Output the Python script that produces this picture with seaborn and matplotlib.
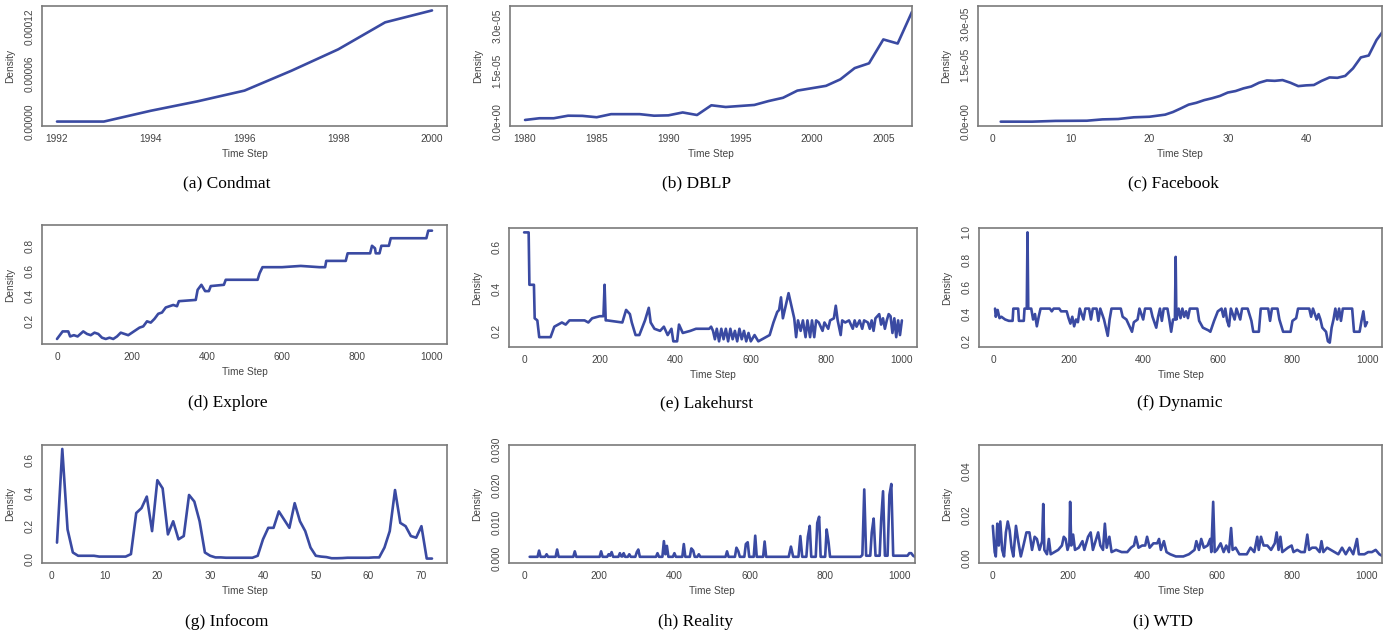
import matplotlib
matplotlib.use("Agg")
import matplotlib.pyplot as plt
import matplotlib.transforms as mtransforms
import seaborn as sns
import numpy as np

sns.set_style("white")
plt.rcParams['font.family'] = ['Liberation Sans', 'DejaVu Sans']

# ---------------- data ----------------
condmat_x = [1992, 1993, 1994, 1995, 1996, 1997, 1998, 1999, 2000]
condmat_y = [0.0, 0.0, 1.36e-5, 2.55e-5, 3.9e-5, 6.4e-5, 9.1e-5, 12.5e-5, 14.0e-5]

dblp_x = list(range(1980, 2008))
dblp_y = [0.5e-6, 1.0e-6, 1.0e-6, 1.75e-6, 1.7e-6, 1.3e-6, 2.2e-6, 2.2e-6, 2.2e-6, 1.75e-6,
          1.85e-6, 2.7e-6, 1.95e-6, 4.8e-6, 4.3e-6, 4.6e-6, 4.9e-6, 6.05e-6, 7.0e-6, 9.1e-6,
          9.8e-6, 10.5e-6, 12.4e-6, 15.7e-6, 17.1e-6, 24.1e-6, 22.9e-6, 32.2e-6]

facebook_x = [1, 5, 8, 12, 14, 16, 18, 20, 22, 23, 24, 25, 26, 27, 28, 29, 30, 31, 32, 33,
              34, 35, 36, 37, 38, 39, 40, 41, 42, 43, 44, 45, 46, 47, 48, 49, 50]
facebook_y = [0.0, 0.0, 0.2e-6, 0.25e-6, 0.6e-6, 0.7e-6, 1.15e-6, 1.3e-6, 1.85e-6, 2.55e-6,
              3.5e-6, 4.5e-6, 5.0e-6, 5.7e-6, 6.2e-6, 6.8e-6, 7.7e-6, 8.1e-6, 8.8e-6, 9.3e-6,
              10.3e-6, 10.9e-6, 10.8e-6, 11.0e-6, 10.3e-6, 9.4e-6, 9.6e-6, 9.7e-6, 10.8e-6,
              11.7e-6, 11.6e-6, 12.1e-6, 14.1e-6, 17.0e-6, 17.5e-6, 21.6e-6, 24.4e-6]

explore_pts = [(0, 0.06), (10, 0.10), (15, 0.12), (30, 0.12), (35, 0.08), (45, 0.09), (55, 0.08),
               (70, 0.12), (80, 0.10), (90, 0.09), (100, 0.11), (110, 0.10), (120, 0.07), (130, 0.06),
               (140, 0.07), (150, 0.06), (160, 0.08), (170, 0.11), (180, 0.10), (190, 0.09),
               (200, 0.11), (210, 0.13), (220, 0.15), (230, 0.16), (240, 0.20), (250, 0.19),
               (260, 0.22), (270, 0.26), (280, 0.27), (290, 0.31), (300, 0.32), (310, 0.33),
               (320, 0.32), (325, 0.36), (370, 0.37), (375, 0.45), (385, 0.49), (395, 0.44),
               (405, 0.44), (410, 0.48), (445, 0.49), (450, 0.53), (535, 0.53), (540, 0.58),
               (548, 0.63), (600, 0.63), (650, 0.64), (700, 0.63), (715, 0.63), (718, 0.68),
               (770, 0.68), (775, 0.74), (835, 0.74), (840, 0.80), (848, 0.78), (850, 0.74),
               (860, 0.74), (865, 0.80), (885, 0.80), (890, 0.86), (985, 0.86), (990, 0.92),
               (1000, 0.92)]

lakehurst_pts = [(0, 0.67), (12, 0.67), (14, 0.42), (26, 0.42), (28, 0.26), (35, 0.25), (40, 0.17),
                 (70, 0.17), (80, 0.22), (100, 0.24), (110, 0.23), (120, 0.25), (160, 0.25),
                 (170, 0.24), (180, 0.26), (200, 0.27), (210, 0.27), (213, 0.42), (216, 0.25),
                 (220, 0.25), (260, 0.24), (270, 0.30), (280, 0.28), (285, 0.24), (295, 0.18),
                 (305, 0.18), (320, 0.25), (330, 0.31), (335, 0.24), (345, 0.21), (360, 0.20),
                 (370, 0.22), (380, 0.18), (390, 0.21), (395, 0.15), (405, 0.15), (410, 0.23),
                 (420, 0.19), (440, 0.20), (455, 0.21), (490, 0.21), (495, 0.22), (500, 0.20),
                 (505, 0.16), (510, 0.21), (516, 0.15), (522, 0.21), (528, 0.16), (534, 0.21),
                 (540, 0.15), (546, 0.21), (552, 0.16), (558, 0.20), (564, 0.15), (570, 0.21),
                 (576, 0.16), (582, 0.20), (588, 0.15), (594, 0.19), (600, 0.15), (610, 0.18),
                 (620, 0.15), (640, 0.17), (650, 0.18), (660, 0.24), (670, 0.29), (675, 0.30),
                 (680, 0.36), (685, 0.26), (690, 0.30), (700, 0.38), (710, 0.30), (715, 0.26),
                 (720, 0.17), (725, 0.25), (732, 0.20), (738, 0.25), (745, 0.17), (750, 0.25),
                 (757, 0.17), (762, 0.25), (768, 0.17), (773, 0.25), (780, 0.24), (790, 0.20),
                 (795, 0.24), (805, 0.21), (810, 0.25), (820, 0.26), (825, 0.32), (830, 0.25),
                 (838, 0.18), (842, 0.25), (850, 0.24), (860, 0.25), (870, 0.21), (875, 0.25),
                 (880, 0.22), (888, 0.25), (895, 0.21), (900, 0.25), (910, 0.24), (915, 0.21),
                 (920, 0.25), (925, 0.20), (930, 0.26), (940, 0.28), (945, 0.23), (950, 0.26),
                 (955, 0.21), (960, 0.25), (965, 0.28), (970, 0.27), (975, 0.19), (980, 0.26),
                 (985, 0.17), (990, 0.25), (995, 0.18), (1000, 0.25)]

dynamic_pts = [(3, 0.44), (5, 0.38), (10, 0.43), (15, 0.37), (20, 0.38), (30, 0.36), (40, 0.35),
               (50, 0.35), (52, 0.44), (65, 0.44), (67, 0.35), (80, 0.35), (82, 0.44), (88, 0.44),
               (90, 1.0), (92, 0.44), (100, 0.44), (105, 0.36), (110, 0.40), (115, 0.31),
               (120, 0.38), (125, 0.44), (150, 0.44), (155, 0.42), (160, 0.44), (175, 0.44),
               (180, 0.42), (195, 0.42), (200, 0.37), (205, 0.33), (210, 0.38), (215, 0.31),
               (220, 0.36), (225, 0.34), (230, 0.44), (240, 0.36), (245, 0.44), (255, 0.44),
               (260, 0.36), (265, 0.44), (275, 0.44), (280, 0.35), (285, 0.44), (295, 0.36),
               (300, 0.30), (305, 0.24), (310, 0.36), (315, 0.44), (340, 0.44), (345, 0.38),
               (355, 0.36), (365, 0.30), (370, 0.27), (375, 0.34), (385, 0.36), (390, 0.44),
               (400, 0.36), (405, 0.44), (420, 0.44), (425, 0.38), (435, 0.30), (440, 0.38),
               (445, 0.44), (450, 0.35), (455, 0.44), (465, 0.44), (470, 0.36), (475, 0.27),
               (480, 0.36), (485, 0.36), (487, 0.82), (489, 0.36), (495, 0.44), (500, 0.37),
               (505, 0.44), (510, 0.38), (515, 0.42), (520, 0.37), (525, 0.44), (545, 0.44),
               (550, 0.35), (560, 0.30), (575, 0.28), (580, 0.27), (590, 0.35), (600, 0.42),
               (610, 0.44), (615, 0.38), (620, 0.44), (625, 0.35), (630, 0.31), (635, 0.44),
               (640, 0.40), (645, 0.36), (650, 0.44), (660, 0.36), (665, 0.44), (680, 0.44),
               (690, 0.35), (695, 0.27), (710, 0.27), (715, 0.44), (735, 0.44), (740, 0.35),
               (745, 0.44), (760, 0.44), (765, 0.36), (775, 0.27), (795, 0.27), (800, 0.35),
               (810, 0.37), (815, 0.44), (845, 0.44), (850, 0.38), (855, 0.44), (865, 0.36),
               (870, 0.40), (875, 0.36), (880, 0.30), (890, 0.27), (895, 0.20), (900, 0.19),
               (905, 0.30), (910, 0.36), (915, 0.44), (920, 0.36), (925, 0.44), (930, 0.35),
               (935, 0.44), (960, 0.44), (965, 0.27), (980, 0.27), (985, 0.35), (990, 0.42),
               (995, 0.31), (1000, 0.34)]

infocom_x = list(range(1, 73))
infocom_y = [0.10, 0.67, 0.18, 0.04, 0.02, 0.02, 0.02, 0.02, 0.015, 0.015,
             0.015, 0.015, 0.015, 0.015, 0.03, 0.28, 0.31, 0.38, 0.17, 0.48,
             0.43, 0.15, 0.23, 0.12, 0.14, 0.39, 0.35, 0.23, 0.04, 0.02,
             0.01, 0.01, 0.008, 0.008, 0.008, 0.008, 0.008, 0.008, 0.02, 0.12,
             0.19, 0.19, 0.29, 0.24, 0.19, 0.34, 0.23, 0.17, 0.07, 0.02,
             0.015, 0.012, 0.005, 0.005, 0.006, 0.008, 0.008, 0.008, 0.008, 0.008,
             0.01, 0.01, 0.07, 0.17, 0.42, 0.22, 0.20, 0.14, 0.13, 0.20,
             0.003, 0.003]

reality_pts = [(15, .0005), (36, .0005), (40, .0022), (44, .0005), (56, .0005), (60, .0012),
               (64, .0005), (84, .0005), (88, .0025), (92, .0005), (131, .0005), (135, .0020),
               (139, .0005), (201, .0005), (205, .0020), (209, .0005), (221, .0005), (225, .0012),
               (229, .0008), (233, .0018), (237, .0005), (251, .0005), (255, .0015), (259, .0006),
               (262, .0006), (265, .0015), (269, .0005), (276, .0005), (280, .0012), (284, .0005),
               (296, .0005), (300, .0018), (304, .0025), (308, .0005), (351, .0005), (355, .0015),
               (359, .0005), (368, .0005), (372, .0048), (376, .0012), (380, .0035), (384, .0005),
               (396, .0005), (400, .0015), (404, .0005), (421, .0005), (425, .0040), (429, .0005),
               (441, .0005), (445, .0028), (450, .0022), (454, .0005), (461, .0005), (465, .0012),
               (469, .0005), (536, .0005), (540, .0020), (544, .0005), (561, .0005), (565, .0030),
               (570, .0020), (574, .0005), (586, .0005), (590, .0040), (595, .0045), (599, .0005),
               (611, .0005), (615, .0063), (619, .0005), (636, .0005), (640, .0047), (644, .0005),
               (704, .0005), (710, .0033), (716, .0005), (730, .0005), (735, .0062), (740, .0005),
               (751, .0005), (755, .0060), (760, .0090), (764, .0005), (776, .0005), (780, .0098),
               (785, .0115), (789, .0005), (801, .0005), (805, .0080), (810, .0045), (814, .0005),
               (895, .0005), (900, .0010), (905, .0190), (910, .0008), (921, .0008), (925, .0072),
               (930, .0110), (935, .0008), (946, .0008), (950, .0105), (955, .0185), (960, .0008),
               (967, .0008), (972, .0175), (977, .0205), (982, .0008), (1000, .0008),
               (1020, .0008), (1025, .0015), (1030, .0015), (1035, .0008), (1045, .0002)]

wtd_pts = [(0, .015), (5, .003), (8, .001), (12, .016), (16, .006), (20, .017), (25, .004),
           (30, .001), (35, .012), (40, .017), (45, .013), (50, .005), (55, .001), (62, .015),
           (68, .008), (75, .001), (82, .006), (90, .012), (98, .012), (105, .004), (112, .010),
           (118, .009), (125, .004), (132, .008), (135, .025), (138, .004), (145, .002),
           (150, .009), (155, .002), (165, .003), (175, .004), (185, .006), (190, .010),
           (195, .009), (200, .004), (205, .007), (207, .026), (210, .006), (215, .011),
           (220, .004), (230, .005), (240, .008), (245, .004), (255, .010), (262, .012),
           (268, .004), (275, .008), (282, .012), (288, .006), (295, .004), (300, .016),
           (305, .005), (312, .010), (318, .003), (330, .004), (345, .003), (360, .003),
           (370, .005), (378, .006), (383, .010), (390, .005), (400, .006), (408, .006),
           (413, .010), (420, .005), (430, .007), (440, .007), (445, .009), (450, .004),
           (458, .008), (465, .003), (475, .002), (490, .001), (510, .001), (525, .002),
           (540, .004), (545, .008), (552, .004), (558, .009), (565, .005), (575, .006),
           (582, .009), (585, .003), (590, .026), (594, .003), (600, .004), (610, .007),
           (618, .003), (625, .006), (632, .003), (638, .014), (642, .004), (650, .005),
           (660, .002), (670, .002), (680, .002), (690, .005), (700, .003), (708, .010),
           (712, .004), (718, .010), (725, .006), (735, .006), (745, .004), (755, .007),
           (760, .012), (765, .004), (770, .010), (775, .003), (790, .005), (800, .006),
           (805, .003), (815, .004), (825, .003), (835, .003), (842, .011), (847, .004),
           (855, .005), (865, .005), (875, .003), (880, .008), (885, .003), (895, .005),
           (905, .004), (915, .003), (925, .002), (935, .005), (945, .002), (955, .005),
           (965, .002), (975, .009), (980, .002), (995, .002), (1005, .003), (1015, .003),
           (1025, .004), (1035, .002), (1045, .001)]

captions = ["(a) Condmat", "(b) DBLP", "(c) Facebook", "(d) Explore", "(e) Lakehurst",
            "(f) Dynamic", "(g) Infocom", "(h) Reality", "(i) WTD"]

def unzip(pts):
    return [p[0] for p in pts], [p[1] for p in pts]

# ---------------- layout ----------------
W, H = 1397, 637
LINE = "#3a4aa2"
FRAME = "#7a7a7a"
TXT = "#444444"

fig = plt.figure(figsize=(W / 100, H / 100), dpi=100)

def label_list(ticks, shown, fmt):
    out = []
    for t in ticks:
        out.append(fmt(t) if any(abs(t - s) < 1e-12 for s in shown) else "")
    return out

def sci(v):
    return ("%.1e" % v) if v else "0.0e+00"

panels = [
    dict(box=(42, 6, 447, 126), xy=(condmat_x, condmat_y), xlim=(1991.68, 2000.32),
         ylim=(-5.6e-6, 1.456e-4), xticks=[1992, 1994, 1996, 1998, 2000],
         yticks=[i * 2e-5 for i in range(8)], yshow=[0, 6e-5, 12e-5],
         yfmt=lambda v: "%.5f" % v, cap=(227, 183), topshift=0),
    dict(box=(510, 6, 912, 126), xy=(dblp_x, dblp_y), xlim=(1978.95, 2007.0),
         ylim=(-1.27e-6, 33.9e-6), xticks=[1980, 1985, 1990, 1995, 2000, 2005],
         yticks=[i * 5e-6 for i in range(7)], yshow=[0, 1.5e-5, 3e-5],
         yfmt=sci, cap=(697, 183), topshift=7),
    dict(box=(978, 6, 1382, 126), xy=(facebook_x, facebook_y), xlim=(-1.9, 49.7),
         ylim=(-1.15e-6, 30.6e-6), xticks=[0, 10, 20, 30, 40],
         yticks=[i * 5e-6 for i in range(7)], yshow=[0, 1.5e-5, 3e-5],
         yfmt=sci, cap=(1173, 183), topshift=16),
    dict(box=(42, 225, 447, 344), xy=unzip(explore_pts), xlim=(-40, 1040),
         ylim=(0.02, 0.965), xticks=[0, 200, 400, 600, 800, 1000],
         yticks=[0.2, 0.4, 0.6, 0.8], yshow=[0.2, 0.4, 0.6, 0.8],
         yfmt=lambda v: "%.1f" % v, cap=(228, 403), topshift=0),
    dict(box=(509, 228, 917, 347), xy=unzip(lakehurst_pts), xlim=(-40, 1040),
         ylim=(0.123, 0.691), xticks=[0, 200, 400, 600, 800, 1000],
         yticks=[0.2, 0.3, 0.4, 0.5, 0.6], yshow=[0.2, 0.4, 0.6],
         yfmt=lambda v: "%.1f" % v, cap=(707, 403), topshift=0),
    dict(box=(979, 228, 1382, 347), xy=unzip(dynamic_pts), xlim=(-40, 1040),
         ylim=(0.158, 1.032), xticks=[0, 200, 400, 600, 800, 1000],
         yticks=[0.2, 0.4, 0.6, 0.8, 1.0], yshow=[0.2, 0.4, 0.6, 0.8, 1.0],
         yfmt=lambda v: "%.1f" % v, cap=(1180, 403), topshift=0),
    dict(box=(42, 445, 447, 563), xy=(infocom_x, infocom_y), xlim=(-1.84, 74.84),
         ylim=(-0.024, 0.694), xticks=[0, 10, 20, 30, 40, 50, 60, 70],
         yticks=[0.0, 0.1, 0.2, 0.3, 0.4, 0.5, 0.6], yshow=[0.0, 0.2, 0.4, 0.6],
         yfmt=lambda v: "%.1f" % v, cap=(227, 622), topshift=0),
    dict(box=(509, 445, 915, 563), xy=unzip(reality_pts), xlim=(-40, 1040),
         ylim=(-0.0012, 0.0312), xticks=[0, 200, 400, 600, 800, 1000],
         yticks=[i * 0.005 for i in range(7)], yshow=[0, 0.01, 0.02, 0.03],
         yfmt=lambda v: "%.3f" % v, cap=(696, 622), topshift=0),
    dict(box=(979, 445, 1382, 563), xy=unzip(wtd_pts), xlim=(-37, 1042),
         ylim=(-0.002, 0.052), xticks=[0, 200, 400, 600, 800, 1000],
         yticks=[i * 0.01 for i in range(6)], yshow=[0, 0.02, 0.04],
         yfmt=lambda v: "%.2f" % v, cap=(1163, 622), topshift=0),
]

for p, cap in zip(panels, captions):
    x0, y0, x1, y1 = p["box"]
    ax = fig.add_axes([x0 / W, 1 - y1 / H, (x1 - x0) / W, (y1 - y0) / H])
    xs, ys = p["xy"]
    sns.lineplot(x=xs, y=ys, ax=ax, color=LINE, linewidth=1.9, estimator=None,
                 sort=False, legend=False)
    ax.set_xlim(*p["xlim"])
    ax.set_ylim(*p["ylim"])
    ax.set_xticks(p["xticks"])
    ax.set_xticklabels([str(t) for t in p["xticks"]])
    ax.set_yticks(p["yticks"])
    labs = ax.set_yticklabels(label_list(p["yticks"], p["yshow"], p["yfmt"]),
                              rotation=90, va="center")
    ax.tick_params(axis="both", direction="out", length=3.5, width=0.8, color=FRAME,
                   labelsize=7.3, labelcolor=TXT, pad=2)
    if p["topshift"]:
        top = [l for l in labs if l.get_text()][-1]
        off = mtransforms.ScaledTranslation(0, -p["topshift"] / 100, fig.dpi_scale_trans)
        top.set_transform(top.get_transform() + off)
    for s in ax.spines.values():
        s.set_color(FRAME)
        s.set_linewidth(1.2)
    wpx, hpx = x1 - x0, y1 - y0
    ax.set_xlabel("Time Step", fontsize=7.3, color=TXT)
    ax.set_ylabel("Density", fontsize=7.3, color=TXT)
    ax.xaxis.set_label_coords(0.5, -23 / hpx)
    ax.yaxis.set_label_coords(-27 / wpx, 0.5)
    fig.text(p["cap"][0] / W, 1 - p["cap"][1] / H, cap, ha="center", va="center",
             family=["Liberation Serif", "DejaVu Serif"], fontsize=12.5, color="black")

fig.savefig("out.png", dpi=100, facecolor="white")
